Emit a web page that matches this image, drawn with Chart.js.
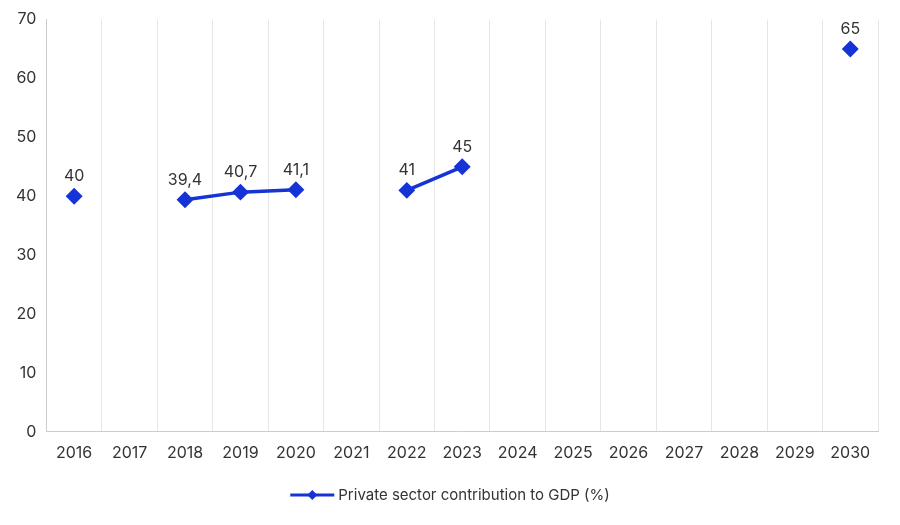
<!DOCTYPE html>
<html>
<head>
<meta charset="utf-8">
<script src="https://cdn.jsdelivr.net/npm/chart.js@4/dist/chart.umd.min.js"></script>
<style>
  body { margin: 0; background: #fff; }
  #wrap { width: 900px; height: 525px; }
</style>
</head>
<body>
<div id="wrap"><canvas id="c"></canvas></div>
<script>
const years = ['2016','2017','2018','2019','2020','2021','2022','2023','2024','2025','2026','2027','2028','2029','2030'];
const contribution = [40, null, 39.4, 40.7, 41.1, null, 41, 45, null, null, null, null, null, null, 65];
const seriesName = 'Private sector contribution to GDP (%)';
const lineColor = '#1633d6';
const font = 'Inter, "Open Sans", sans-serif';

const valueLabels = {
  id: 'valueLabels',
  afterDatasetsDraw(chart) {
    const ctx = chart.ctx;
    const meta = chart.getDatasetMeta(0);
    ctx.save();
    ctx.font = '16px ' + font;
    ctx.fillStyle = '#333';
    ctx.textAlign = 'center';
    ctx.textBaseline = 'bottom';
    meta.data.forEach((pt, i) => {
      const v = contribution[i];
      if (v === null) return;
      ctx.fillText(String(v).replace('.', ','), pt.x, pt.y - 12);
    });
    ctx.restore();
  }
};

const customLegend = {
  id: 'customLegend',
  afterDraw(chart) {
    const ctx = chart.ctx;
    const y = 495;
    ctx.save();
    ctx.font = '15px ' + font;
    const tw = ctx.measureText(seriesName).width;
    const total = 44 + 4 + tw;
    const x0 = (chart.width - total) / 2;
    ctx.strokeStyle = lineColor;
    ctx.lineWidth = 3;
    ctx.beginPath(); ctx.moveTo(x0, y); ctx.lineTo(x0 + 44, y); ctx.stroke();
    ctx.fillStyle = lineColor;
    ctx.beginPath();
    ctx.moveTo(x0 + 22, y - 5); ctx.lineTo(x0 + 27, y); ctx.lineTo(x0 + 22, y + 5); ctx.lineTo(x0 + 17, y);
    ctx.closePath(); ctx.fill();
    ctx.fillStyle = '#333';
    ctx.textBaseline = 'middle';
    ctx.fillText(seriesName, x0 + 48, y);
    ctx.restore();
  }
};

const adjacent = c => c.p1.parsed.x - c.p0.parsed.x === 1;

new Chart(document.getElementById('c'), {
  type: 'line',
  data: {
    labels: years,
    datasets: [{
      label: seriesName,
      data: contribution,
      borderColor: lineColor,
      backgroundColor: lineColor,
      borderWidth: 3.5,
      pointStyle: 'rectRot',
      pointRadius: 6,
      pointHoverRadius: 6,
      spanGaps: false,
      order: 0
    }, {
      label: seriesName + ' (gap)',
      data: contribution,
      borderColor: lineColor,
      borderWidth: 1.5,
      borderDash: [5, 4],
      pointRadius: 0,
      spanGaps: true,
      order: 1,
      segment: {
        borderColor: c => adjacent(c) ? 'rgba(0,0,0,0)' : lineColor
      }
    }]
  },
  options: {
    responsive: true,
    maintainAspectRatio: false,
    animation: false,
    layout: { padding: { top: 14, right: 22, left: 6, bottom: 50 } },
    plugins: { legend: { display: false }, tooltip: { enabled: false } },
    scales: {
      x: {
        offset: true,
        grid: { offset: true, color: '#e6e6e6', drawTicks: false },
        border: { color: '#cccccc' },
        ticks: { color: '#333', font: { family: font, size: 16 }, padding: 12, maxRotation: 0, autoSkip: false }
      },
      y: {
        min: 0, max: 70,
        ticks: { stepSize: 10, color: '#333', font: { family: font, size: 16 }, padding: 10 },
        grid: { display: false, drawTicks: false },
        border: { color: '#cccccc' }
      }
    }
  },
  plugins: [valueLabels, customLegend]
});
</script>
</body>
</html>
